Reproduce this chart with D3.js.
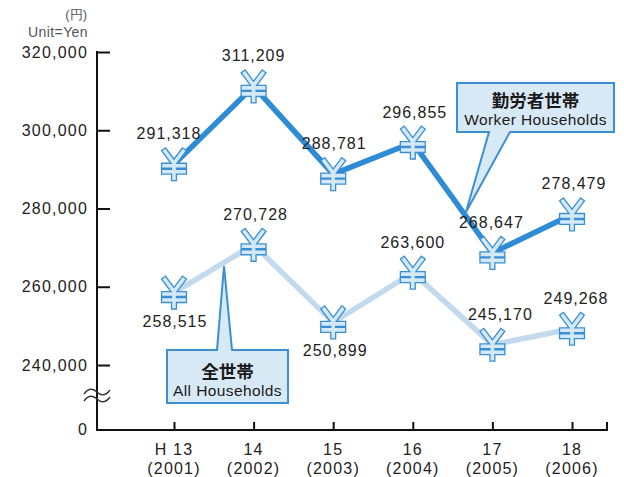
<!DOCTYPE html>
<html><head><meta charset="utf-8">
<script src="https://cdn.jsdelivr.net/npm/d3@7"></script>
<style>
body{margin:0;background:#fff;}
text{font-family:"Liberation Sans",Arial,sans-serif;}
</style></head>
<body><svg id="c" width="624" height="477"></svg>
<script>
const categories = ["H 13", "14", "15", "16", "17", "18"];
const years = ["(2001)", "(2002)", "(2003)", "(2004)", "(2005)", "(2006)"];
const workerValues = [291318, 311209, 288781, 296855, 268647, 278479];
const allValues = [258515, 270728, 250899, 263600, 245170, 249268];
const yTicks = [240000, 260000, 280000, 300000, 320000];

// label layout (not data): side -1 above, 1 below; small horizontal nudges
const workerLabelSide = [-1, -1, -1, -1, -1, -1];
const workerLabelDx = [-5, 0, 1, 2, -1, 2];
const allLabelSide = [1, -1, 1, -1, -1, -1];
const allLabelDx = [1, 2, 2, 0, 8, 4];

const svg = d3.select("#c");
const x = d3.scalePoint().domain(categories).range([174, 572]);
const y = d3.scaleLinear().domain([240000, 320000]).range([365, 52]);
const axisX = 97, zeroY = 430, xEnd = 608;
const fmt = d3.format(",");
const LS = "1.2px";

// Y axis
const yAxis = d3.axisLeft(y).tickValues(yTicks).tickFormat(fmt).tickSizeInner(-13).tickSizeOuter(0).tickPadding(9);
const gy = svg.append("g").attr("transform", `translate(${axisX},0)`).call(yAxis);
gy.select(".domain").remove();
gy.selectAll(".tick line").attr("stroke", "#111").attr("stroke-width", 2);
gy.selectAll(".tick text").attr("font-size", 16).attr("fill", "#222").attr("letter-spacing", LS)
  .style("font-family", "'Liberation Sans',Arial,sans-serif");
svg.append("line").attr("x1", axisX).attr("x2", axisX).attr("y1", y(320000) - 1).attr("y2", zeroY + 1)
  .attr("stroke", "#111").attr("stroke-width", 2);
svg.append("text").attr("x", axisX - 9).attr("y", zeroY).attr("dy", "0.32em").attr("text-anchor", "end")
  .attr("font-size", 16).attr("fill", "#222").attr("letter-spacing", LS).text("0");

// axis break squiggle
const brk = svg.append("g").attr("fill", "none").attr("stroke", "#333").attr("stroke-width", 1.4);
[392, 399].forEach(by => {
  brk.append("path").attr("d", `M84,${by + 2} C89,${by - 5} 94,${by - 3} 97,${by} S105,${by + 5} 110,${by - 2}`);
});

// X axis
const xAxis = d3.axisBottom(x).tickSizeInner(-8).tickSizeOuter(0).tickFormat("");
const gx = svg.append("g").attr("transform", `translate(0,${zeroY})`).call(xAxis);
gx.select(".domain").remove();
gx.selectAll(".tick line").attr("stroke", "#111").attr("stroke-width", 2);
svg.append("line").attr("x1", axisX - 1).attr("x2", xEnd).attr("y1", zeroY).attr("y2", zeroY).attr("stroke", "#111").attr("stroke-width", 2);
svg.append("line").attr("x1", xEnd - 1).attr("x2", xEnd - 1).attr("y1", zeroY).attr("y2", zeroY - 8).attr("stroke", "#111").attr("stroke-width", 2);
const xl = svg.append("g");
categories.forEach((c, i) => {
  const t = xl.append("text").attr("text-anchor", "middle").attr("font-size", 16).attr("fill", "#222").attr("letter-spacing", LS);
  t.append("tspan").attr("x", x(c)).attr("y", 455).text(c);
  t.append("tspan").attr("x", x(c)).attr("y", 474).text(years[i]);
});

// unit
svg.append("text").attr("x", 87).attr("y", 19).attr("text-anchor", "end").attr("font-size", 13).attr("fill", "#555").text("(円)");
svg.append("text").attr("x", 88).attr("y", 37).attr("text-anchor", "end").attr("font-size", 14).attr("fill", "#555").attr("letter-spacing", "0.4px").text("Unit=Yen");

// callouts
function callout(box, tip, base, lines, sizes) {
  const g = svg.append("g");
  const [bx, by, bw, bh] = box;
  let d;
  if (base.side === "bottom") {
    d = `M${bx},${by} H${bx + bw} V${by + bh} H${base.x2} L${tip[0]},${tip[1]} L${base.x1},${by + bh} H${bx} Z`;
  } else {
    d = `M${bx},${by} H${base.x1} L${tip[0]},${tip[1]} L${base.x2},${by} H${bx + bw} V${by + bh} H${bx} Z`;
  }
  g.append("path").attr("d", d).attr("fill", "#d8e9f6").attr("stroke", "#3b8fd2").attr("stroke-width", 2).attr("stroke-linejoin", "miter");
  g.append("text").attr("x", bx + bw / 2).attr("y", by + sizes[0]).attr("text-anchor", "middle").attr("font-size", 17.5)
    .attr("font-weight", "bold").attr("fill", "#1a1a1a").style("font-family", "'Noto Sans CJK JP',sans-serif").text(lines[0]);
  g.append("text").attr("x", bx + bw / 2).attr("y", by + sizes[1]).attr("text-anchor", "middle").attr("font-size", 15.5)
    .attr("letter-spacing", "0.4px").attr("fill", "#1a1a1a").text(lines[1]);
}
callout([457, 83, 157, 49], [466, 212], {side: "bottom", x1: 489, x2: 510}, ["勤労者世帯", "Worker Households"], [24, 42]);
callout([167, 350, 121, 53], [224, 266], {side: "top", x1: 217, x2: 232}, ["全世帯", "All Households"], [28, 46]);

// lines
const line = d3.line().x((d, i) => x(categories[i])).y(d => y(d));
svg.append("path").datum(allValues).attr("d", line).attr("fill", "none").attr("stroke", "#c3daee").attr("stroke-width", 5.5);
svg.append("path").datum(workerValues).attr("d", line).attr("fill", "none").attr("stroke", "#2d8cd3").attr("stroke-width", 5.5);

// yen markers
const yenPath = "M-9,-13 L0,-1 L9,-13 M0,-1 L0,14 M-10,1.5 L10,1.5 M-10,7.5 L10,7.5";
function markers(vals) {
  const g = svg.append("g");
  vals.forEach((v, i) => {
    const m = g.append("g").attr("transform", `translate(${x(categories[i])},${y(v)})`);
    m.append("path").attr("d", yenPath).attr("fill", "none").attr("stroke", "#3a8ed3").attr("stroke-width", 6.2).attr("stroke-linecap", "square");
    m.append("path").attr("d", yenPath).attr("fill", "none").attr("stroke", "#d3e9f8").attr("stroke-width", 3.6).attr("stroke-linecap", "square");
  });
}
markers(allValues);
markers(workerValues);

// value labels
function labels(vals, side, dx) {
  vals.forEach((v, i) => {
    svg.append("text").attr("x", x(categories[i]) + dx[i]).attr("y", y(v) + (side[i] < 0 ? -25 : 34))
      .attr("text-anchor", "middle").attr("font-size", 16).attr("letter-spacing", "1px").attr("fill", "#222").text(fmt(v));
  });
}
labels(workerValues, workerLabelSide, workerLabelDx);
labels(allValues, allLabelSide, allLabelDx);
</script></body></html>
